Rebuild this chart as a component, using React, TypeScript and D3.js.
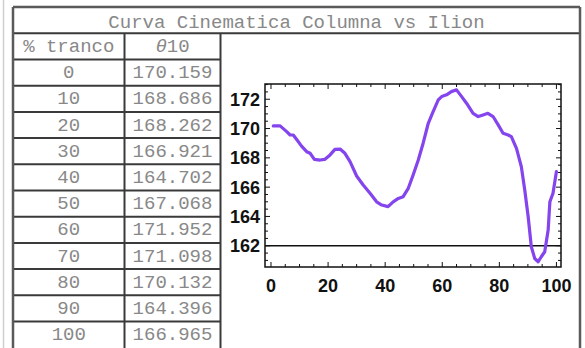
import React from 'react';
import * as d3 from 'd3';

const title = 'Curva Cinematica Columna vs Ilion';
const headerTranco = '% tranco';
const headerTheta = '10';
const tranco = [0, 10, 20, 30, 40, 50, 60, 70, 80, 90, 100];
const theta10 = ['170.159', '168.686', '168.262', '166.921', '164.702', '167.068', '171.952', '171.098', '170.132', '164.396', '166.965'];

const curveX = [0.8, 3.2, 5.5, 6.7, 7.8, 9.2, 10.7, 12.5, 13.7, 15.2, 17.2, 18.9, 20.7, 22.4, 24.2, 25.9, 27.7, 30, 32.3, 34.7, 37, 38.8, 41, 42.8, 44.6, 46.3, 48.1, 49.8, 51.6, 53.3, 55.1, 56.8, 58.6, 59.8, 61.5, 63.2, 65, 66.8, 68.5, 70.8, 72.6, 74.3, 76, 77.8, 79.6, 81.3, 83.1, 84.2, 86, 87.7, 88.9, 90.1, 91.2, 92.4, 93.6, 94.7, 95.9, 97.1, 97.7, 98.8, 100];
const curveY = [170.18, 170.18, 169.79, 169.56, 169.56, 169.2, 168.8, 168.42, 168.31, 167.9, 167.85, 167.9, 168.2, 168.58, 168.6, 168.31, 167.74, 166.76, 166.15, 165.58, 165.0, 164.78, 164.67, 165.0, 165.23, 165.35, 165.92, 166.83, 167.85, 169.0, 170.36, 171.16, 171.95, 172.18, 172.3, 172.52, 172.64, 172.18, 171.73, 171.04, 170.82, 170.93, 171.04, 170.82, 170.25, 169.68, 169.56, 169.45, 168.65, 167.4, 165.8, 163.98, 161.93, 161.13, 160.91, 161.25, 161.59, 163.07, 165.0, 165.58, 167.06];

const xTicks = [0, 20, 40, 60, 80, 100];
const yTicks = [162, 164, 166, 168, 170, 172];
const refLine = 162;

export default function App() {
  const W = 585, H = 348;
  const x = d3.scaleLinear().domain([-2.1, 101.6]).range([265, 561]);
  const y = d3.scaleLinear().domain([160.55, 173.04]).range([267, 84]);
  const [x0, x1] = x.range();
  const [y0, y1] = y.range();

  const line = d3.line<number>().x((_, i) => x(curveX[i])).y((d) => y(d));

  const xMinor = d3.range(0, 100.01, 5).filter((v) => v % 20 !== 0);
  const yMinor = d3.range(161, 173.01, 0.5).filter((v) => v % 2 !== 0);

  const tR = 13, c1 = 124.5, c2 = 220.5, tRight = 580;
  const titleTop = 7, titleBot = 33.3, rowH = 26.2;
  const rowTop = (i: number) => titleBot + rowH * (i + 1);
  const mono = "'Liberation Mono', 'Courier New', monospace";
  const textFill = '#888';
  const lineCol = '#3a3a3a';
  const tickFont = "'Liberation Sans', Arial, sans-serif";

  const tickEls: React.ReactNode[] = [];
  const addX = (v: number, len: number, k: string) => {
    tickEls.push(<line key={'xb' + k} x1={x(v)} x2={x(v)} y1={y0} y2={y0 - len} />);
    tickEls.push(<line key={'xt' + k} x1={x(v)} x2={x(v)} y1={y1} y2={y1 + len} />);
  };
  const addY = (v: number, len: number, k: string) => {
    tickEls.push(<line key={'yl' + k} x1={x0} x2={x0 + len} y1={y(v)} y2={y(v)} />);
    tickEls.push(<line key={'yr' + k} x1={x1} x2={x1 - len} y1={y(v)} y2={y(v)} />);
  };
  xTicks.forEach((v) => addX(v, 5, 'M' + v));
  xMinor.forEach((v) => addX(v, 3, 'm' + v));
  yTicks.forEach((v) => addY(v, 5, 'M' + v));
  yMinor.forEach((v) => addY(v, 3, 'm' + v));

  return (
    <svg width={W} height={H} style={{ position: 'absolute', left: 0, top: 0, background: '#fff' }}>
      <rect x={0} y={0} width={W} height={H} fill="#fff" />
      <line x1={3.5} x2={3.5} y1={0} y2={H} stroke="#cfcfcf" strokeWidth={1.5} />
      <g stroke={lineCol} strokeWidth={2} fill="none">
        <line x1={tR} x2={tRight} y1={titleBot} y2={titleBot} />
        {tranco.map((_, i) => (
          <line key={'r' + i} x1={tR} x2={c2} y1={rowTop(i)} y2={rowTop(i)} />
        ))}
        <line x1={c1} x2={c1} y1={titleBot} y2={H} />
        <line x1={c2} x2={c2} y1={titleBot} y2={H} />
      </g>
      <g stroke="#5a5a5a" strokeWidth={2.5} fill="none">
        <line x1={tR} x2={tRight} y1={titleTop} y2={titleTop} />
        <line x1={tR} x2={tR} y1={titleTop} y2={H} />
        <line x1={tRight} x2={tRight} y1={titleTop} y2={H} />
      </g>
      <g fontFamily={mono} fontSize={19} fill={textFill} textAnchor="middle">
        <text x={(tR + tRight) / 2} y={28}>{title}</text>
        <text x={(tR + c1) / 2} y={titleBot + rowH / 2 + 5.5}>{headerTranco}</text>
        <text x={(c1 + c2) / 2} y={titleBot + rowH / 2 + 5.5}>
          <tspan fontStyle="italic">θ</tspan>{headerTheta}
        </text>
        {tranco.map((t, i) => (
          <text key={'t' + i} x={(tR + c1) / 2} y={rowTop(i) + rowH / 2 + 5.5}>{t}</text>
        ))}
        {theta10.map((t, i) => (
          <text key={'v' + i} x={(c1 + c2) / 2} y={rowTop(i) + rowH / 2 + 5.5}>{t}</text>
        ))}
      </g>
      <line x1={x0} x2={x1} y1={y(refLine)} y2={y(refLine)} stroke="#111" strokeWidth={1.5} />
      <path d={line(curveY) || ''} fill="none" stroke="#8444ee" strokeWidth={3.2} strokeLinejoin="round" strokeLinecap="round" />
      <g stroke="#111" strokeWidth={1}>{tickEls}</g>
      <rect x={x0} y={y1} width={x1 - x0} height={y0 - y1} fill="none" stroke="#111" strokeWidth={1.5} />
      <g fontFamily={tickFont} fontWeight="bold" fontSize={18} fill="#111">
        {xTicks.map((v) => (
          <text key={'xl' + v} x={x(v)} y={291.5} textAnchor="middle">{v}</text>
        ))}
        {yTicks.map((v) => (
          <text key={'yl' + v} x={260} y={y(v) + 6.5} textAnchor="end">{v}</text>
        ))}
      </g>
    </svg>
  );
}
